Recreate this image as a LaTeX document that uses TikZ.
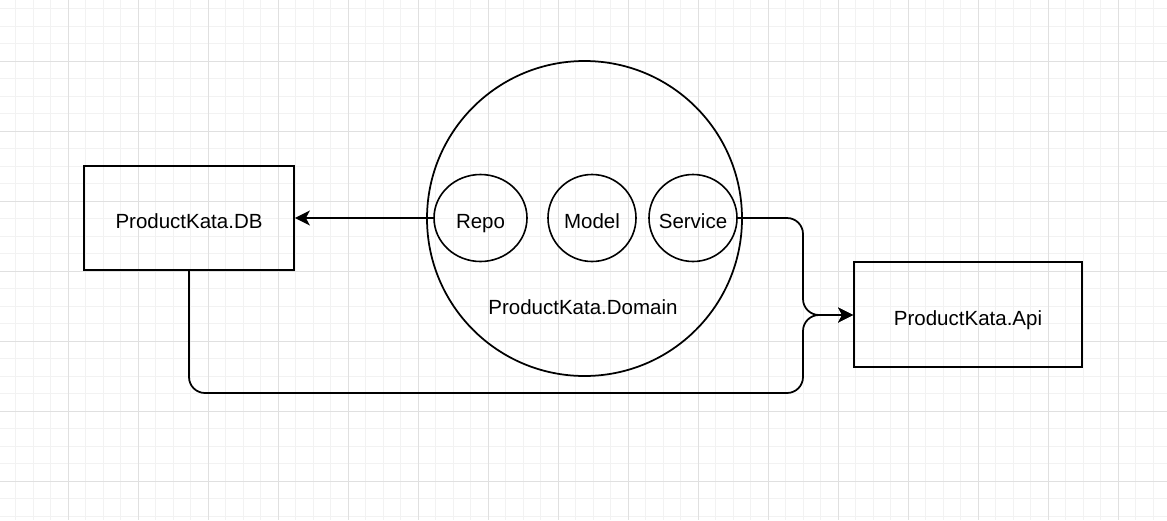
\documentclass[tikz,border=0pt]{standalone}
\usepackage{fontspec}
\setmainfont{Liberation Sans}
\usetikzlibrary{positioning,arrows.meta,shapes.geometric}

\begin{document}
\begin{tikzpicture}[x=1pt, y=-1pt,
  every node/.style={font=\fontsize{20.5}{24}\selectfont, text height=21pt, text depth=0pt},
  box/.style={draw, line width=1.75pt, minimum width=210pt, minimum height=104pt, inner sep=0pt},
  part/.style={draw, ellipse, line width=1.6pt, minimum width=88pt, minimum height=87pt,
               inner sep=0pt, text width=0pt, align=center},
  link/.style={line width=1.75pt, rounded corners=16pt,
               -{Stealth[length=15pt, width=15pt, inset=4pt]}},
  minorline/.style={draw=black!5, line width=0.9pt},
  majorline/.style={draw=black!12, line width=0.9pt},
]
\useasboundingbox (0,0) rectangle (1167,520);
\fill[white] (0,0) rectangle (1167,520);

% background grid
\foreach \i in {0,...,67} \draw[minorline] ({-1.7+17.5*\i},0) -- ++(0,520);
\foreach \j in {0,...,29} \draw[minorline] (0,{8.5+17.5*\j}) -- ++(1167,0);
\foreach \i in {1,...,16} \draw[majorline] ({-1.7+70*\i},0) -- ++(0,520);
\foreach \j in {1,...,7} \draw[majorline] (0,{-9+70*\j}) -- ++(1167,0);

% projects
\node[box] (db) at (189,218) {ProductKata.DB};
\node[box, minimum width=228pt, minimum height=105pt] (api) at (968,314.5) {ProductKata.Api};

% domain with its parts
\node[draw, circle, line width=1.75pt, minimum size=315pt, inner sep=0pt, text height=0pt, text depth=0pt]
  (domain) at (584.5,218.5) {};
\node (domlabel) at (583,304) {ProductKata.Domain};
\node[part, minimum width=93pt] (repo) at (480.5,218) {\hbox to 0pt{\hss Repo\hss}};
\node[part] (model) at (592,218) {\hbox to 0pt{\hss Model\hss}};
\node[part] (service) at (693,218) {\hbox to 0pt{\hss Service\hss}};

% references
\coordinate (bend) at (803,315);
\draw[link] (repo.west) -- (repo.west -| db.east);
\draw[link] (service.east) -- (service.east -| bend) -- (bend) -- (bend -| api.west);
\draw[link] (db.south) -- (db.south |- 0,393) -- (bend |- 0,393) -- (bend) -- (bend -| api.west);
\end{tikzpicture}
\end{document}
